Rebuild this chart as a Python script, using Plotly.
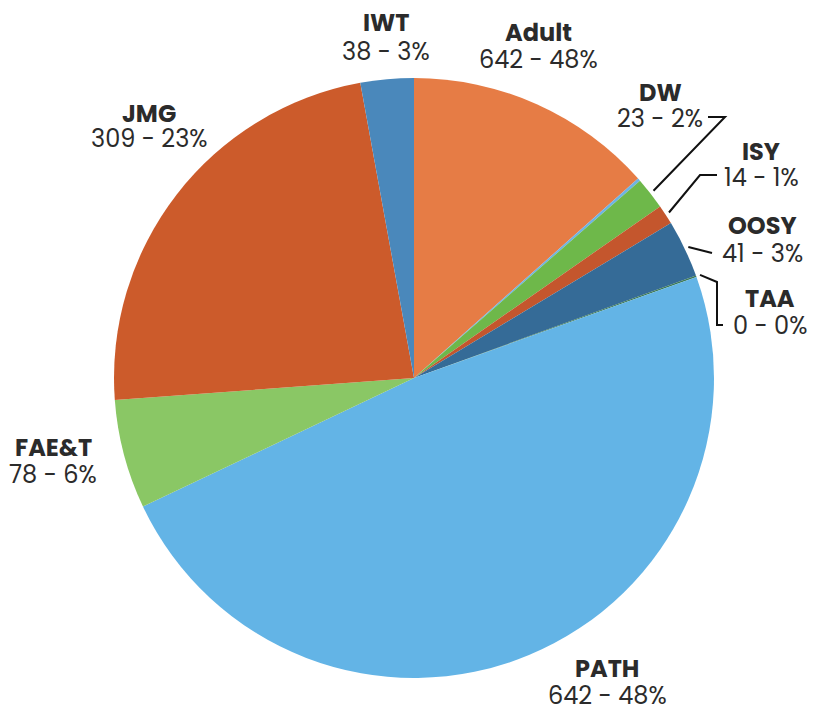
import math
import plotly.graph_objects as go

# ---- data ----
categories = ["Adult", "(unlabeled)", "DW", "ISY", "OOSY", "TAA", "PATH", "FAE&T", "JMG", "IWT"]
slice_values = [178, 2, 23, 14, 41, 1, 642, 78, 309, 38]       # slice sizes
label_counts = ["642", "", "23", "14", "41", "0", "642", "78", "309", "38"]   # as printed on the chart
label_pcts = ["48%", "", "2%", "1%", "3%", "0%", "48%", "6%", "23%", "3%"]
colors = ["#E67C45", "#6DB3E3", "#6EB84A", "#C4562D", "#356B97", "#3D7A57",
          "#63B4E6", "#8AC765", "#CC5B2B", "#4A88BB"]

# page is offset by the 8px body margin; work in page pixels
OFF = 8
W, H = 815 - OFF, 707 - OFF
CX, CY, R = 414, 378, 300  # pie centre / radius in page pixels


def px(x):
    return (x - OFF) / W


def py(y):
    return 1 - (y - OFF) / H


fig = go.Figure(go.Pie(
    labels=categories,
    values=slice_values,
    sort=False,
    direction="clockwise",
    rotation=0,
    marker=dict(colors=colors, line=dict(width=0)),
    textinfo="none",
    hoverinfo="label+value",
    showlegend=False,
    domain=dict(x=[px(CX - R), px(CX + R)], y=[py(CY + R), py(CY - R)]),
))

# label positions (page pixel centres): (x, y of name line, y of value line)
label_pos = {
    "IWT": (386, 22, 51),
    "Adult": (538, 32, 59),
    "DW": (660, 93, 118),
    "ISY": (761, 152, 177),
    "OOSY": (762, 226, 253),
    "TAA": (770, 298, 325),
    "JMG": (149, 113, 139),
    "FAE&T": (53, 447, 474),
    "PATH": (607, 668, 695),
}

FONT = "Poppins, Open Sans, sans-serif"
for i, cat in enumerate(categories):
    if cat not in label_pos:
        continue
    x, y1, y2 = label_pos[cat]
    fig.add_annotation(
        x=px(x), y=py(y1), xref="paper", yref="paper",
        text=f"<b>{cat}</b>", showarrow=False,
        xanchor="center", yanchor="middle",
        font=dict(family=FONT, size=24, color="#2b2b2b"),
    )
    fig.add_annotation(
        x=px(x), y=py(y2), xref="paper", yref="paper",
        text=f"{label_counts[i]} - {label_pcts[i]}", showarrow=False,
        xanchor="center", yanchor="middle",
        font=dict(family=FONT, size=24, color="#2b2b2b"),
    )

# leader lines for the small slices: start at the slice edge (from data), then elbow to the label
total = sum(slice_values)
cum = 0
mid_angle = {}
for cat, v in zip(categories, slice_values):
    mid_angle[cat] = (cum + v / 2) / total * 2 * math.pi
    cum += v

leader_bends = {
    "DW": [(725, 117), (708, 117)],
    "ISY": [(700, 175), (717, 175)],
    "OOSY": [(712, 253)],
    "TAA": [(717, 282), (717, 325), (723, 325)],
}
for cat, bends in leader_bends.items():
    a = mid_angle[cat]
    sx = CX + (R + 4) * math.sin(a)
    sy = CY - (R + 4) * math.cos(a)
    pts = [(sx, sy)] + bends
    path = "M " + " L ".join(f"{px(x):.5f},{py(y):.5f}" for x, y in pts)
    fig.add_shape(type="path", path=path, xref="paper", yref="paper",
                  line=dict(color="#111111", width=2))

fig.update_layout(
    width=W, height=H,
    margin=dict(l=0, r=0, t=0, b=0),
    paper_bgcolor="white",
    plot_bgcolor="white",
)

fig.write_html("out.html")
